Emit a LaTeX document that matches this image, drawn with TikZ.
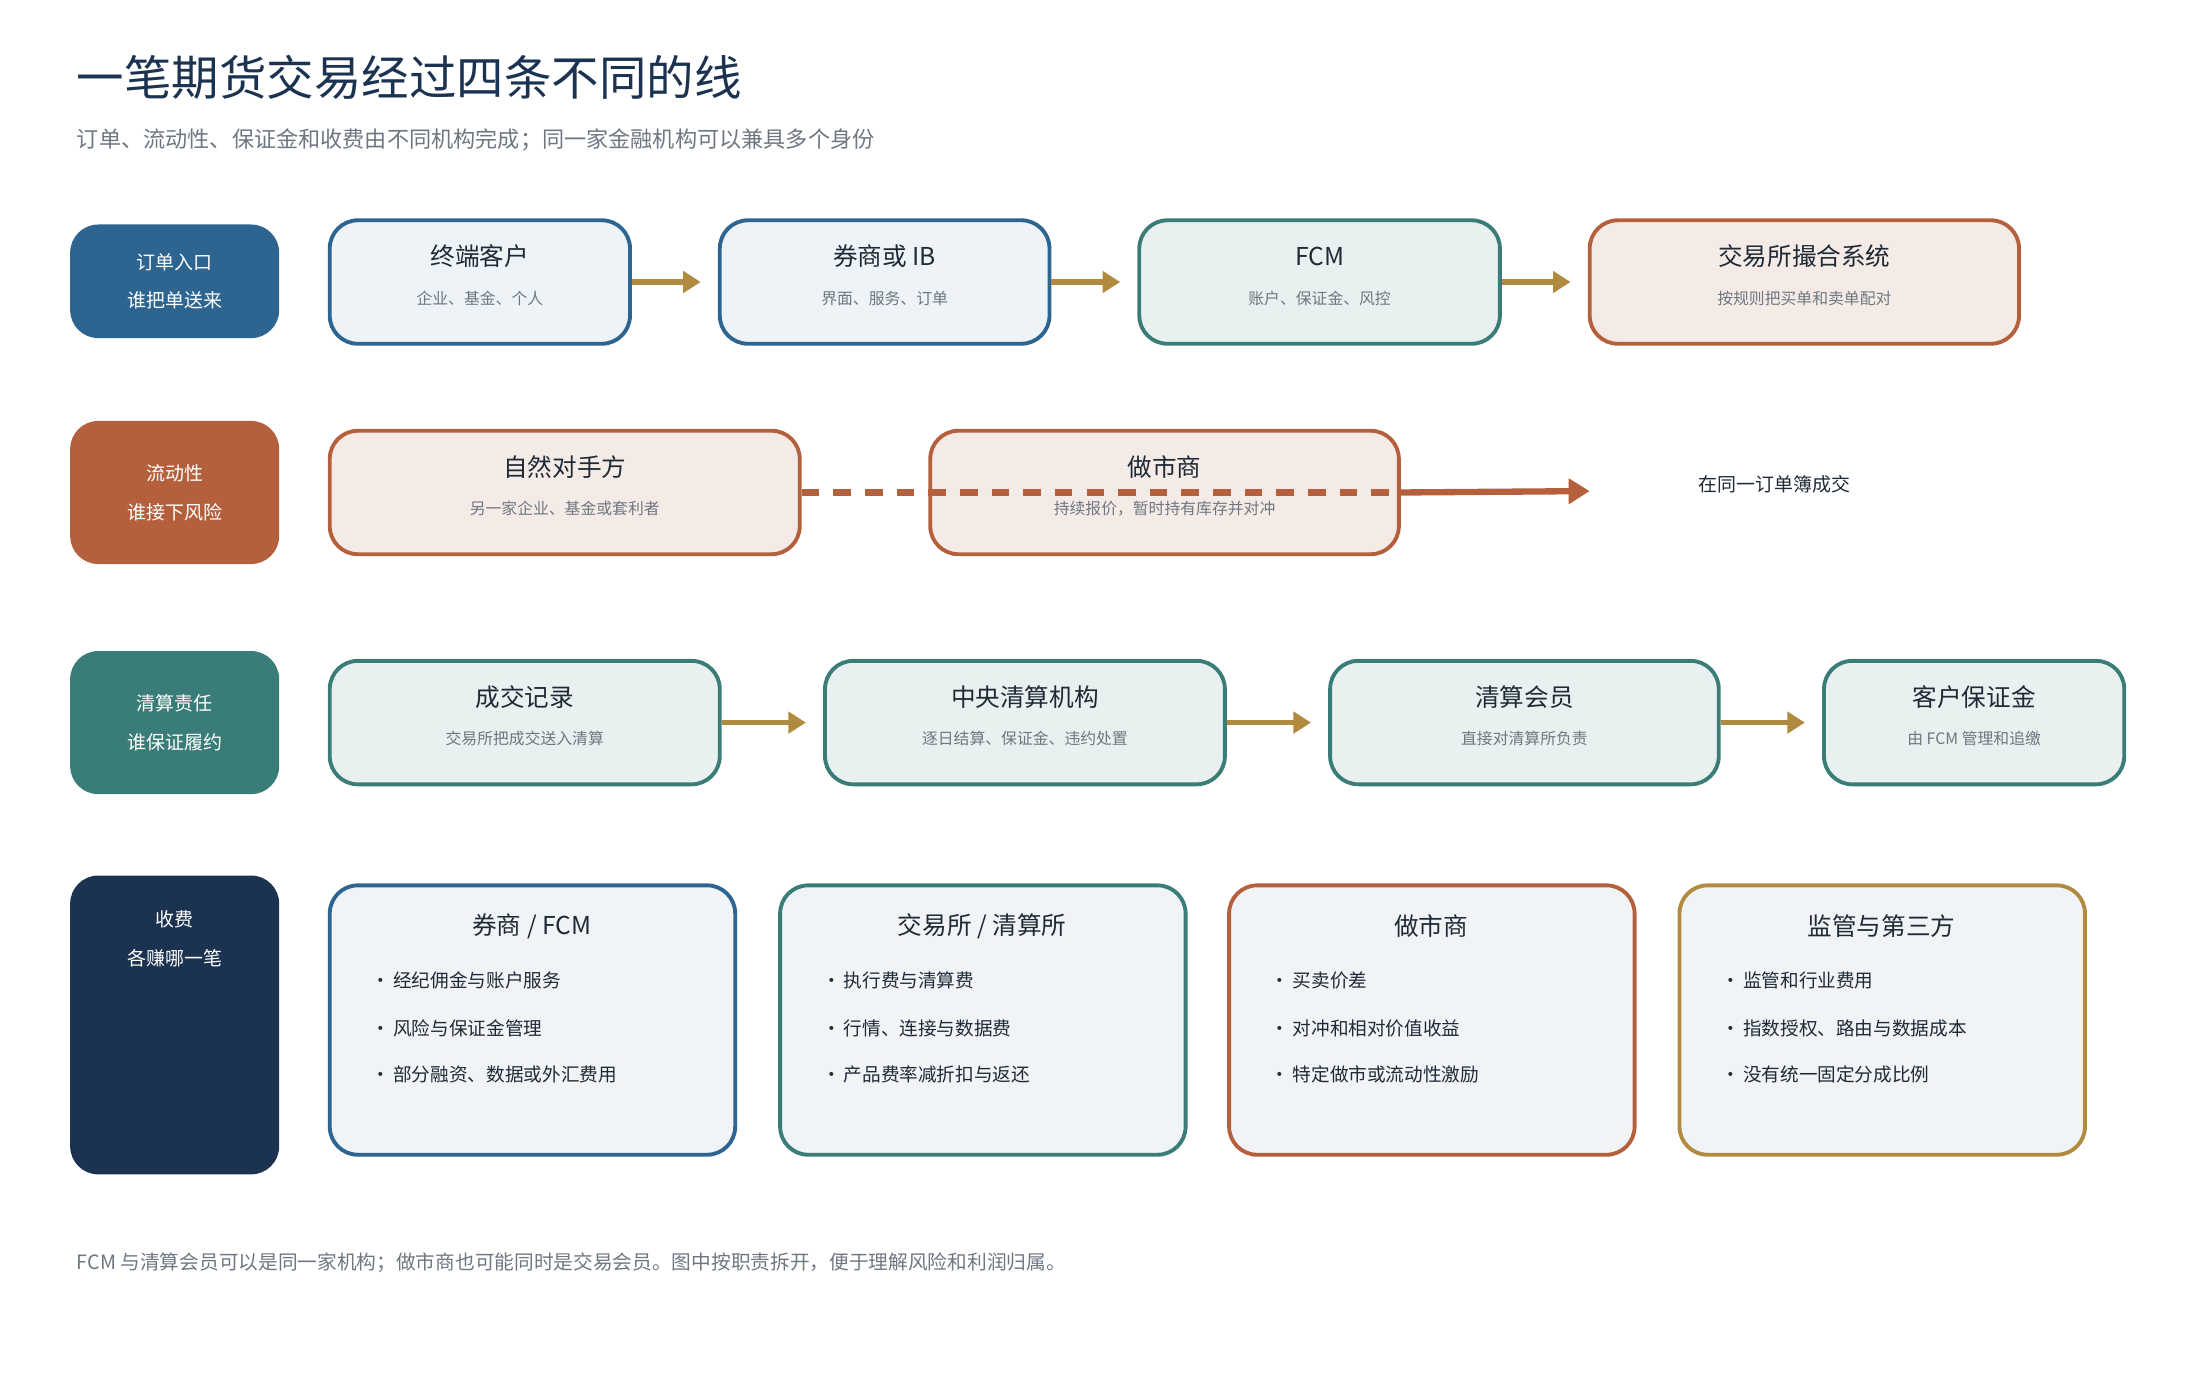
\documentclass[tikz,border=0pt]{standalone}
\usepackage{fontspec}
\setmainfont{Noto Sans CJK SC}
\usetikzlibrary{arrows.meta,positioning}
\definecolor{cblue}{HTML}{2E6490}
\definecolor{corange}{HTML}{B5603D}
\definecolor{cteal}{HTML}{3A7C77}
\definecolor{cnavy}{HTML}{1B3350}
\definecolor{cgold}{HTML}{B08A3E}
\definecolor{fblue}{HTML}{EEF3F8}
\definecolor{forange}{HTML}{F5EBE6}
\definecolor{fteal}{HTML}{E8F1EF}
\definecolor{fgray}{HTML}{F1F4F7}
\definecolor{ctext}{HTML}{1F2A36}
\definecolor{csub}{HTML}{6E7781}
\def\u{0.01403cm}
% box: name, x1, y1, x2, y2, style
\newcommand{\stagebox}[6]{%
  \node[#6, minimum width={(#4-#2)*\u}, minimum height={(#5-#3)*\u}] (#1) at ({(#2+#4)/2},{(#3+#5)/2}) {};}
\begin{document}
\begin{tikzpicture}[x=\u, y=-\u,
  box/.style={draw, line width=1.1pt, rounded corners=8pt, inner sep=0pt},
  side/.style={rounded corners=8pt, inner sep=0pt, text=white, font=\fontsize{5.4}{11}\selectfont, align=center},
  head/.style={font=\fontsize{7}{8}\selectfont, text=ctext},
  sub/.style={font=\fontsize{4.5}{5}\selectfont, text=csub},
  item/.style={font=\fontsize{5.3}{6}\selectfont, text=ctext, anchor=west},
  flow/.style={cgold, line width=1.6pt, -{Triangle[length=5pt,width=6pt]}}]
  \useasboundingbox (0,0) rectangle (1568,983);
  % title
  \node[anchor=west, text=cnavy, font=\fontsize{13.5}{14}\selectfont] (title) at (46,55) {一笔期货交易经过四条不同的线};
  \node[anchor=west, text=csub, font=\fontsize{6.3}{7}\selectfont] (subtitle) at (46,100) {订单、流动性、保证金和收费由不同机构完成；同一家金融机构可以兼具多个身份};

  % row 1: orders
  \stagebox{r1}{50}{160}{199}{241}{side, fill=cblue}
  \node[side] at (r1) {订单入口\\谁把单送来};
  \stagebox{client}{235}{157}{449}{245}{box, draw=cblue, fill=fblue}
  \stagebox{ib}{513}{157}{748}{245}{box, draw=cblue, fill=fblue}
  \stagebox{fcm}{812}{157}{1069}{245}{box, draw=cteal, fill=fteal}
  \stagebox{match}{1133}{157}{1439}{245}{box, draw=corange, fill=forange}
  \node[head] at ([yshift=-27*\u]client.north) {终端客户};
  \node[sub] at ([yshift=-57*\u]client.north) {企业、基金、个人};
  \node[head] at ([yshift=-27*\u]ib.north) {券商或 IB};
  \node[sub] at ([yshift=-57*\u]ib.north) {界面、服务、订单};
  \node[head] at ([yshift=-27*\u]fcm.north) {FCM};
  \node[sub] at ([yshift=-57*\u]fcm.north) {账户、保证金、风控};
  \node[head] at ([yshift=-27*\u]match.north) {交易所撮合系统};
  \node[sub] at ([yshift=-57*\u]match.north) {按规则把买单和卖单配对};
  \draw[flow] (client.east) -- ++(49,0);
  \draw[flow] (ib.east) -- ++(49,0);
  \draw[flow] (fcm.east) -- ++(49,0);

  % row 2: liquidity
  \stagebox{r2}{50}{300}{199}{402}{side, fill=corange}
  \node[side] at (r2) {流动性\\谁接下风险};
  \stagebox{natural}{235}{307}{570}{395}{box, draw=corange, fill=forange}
  \stagebox{mm}{663}{307}{997}{395}{box, draw=corange, fill=forange}
  \node[head] at ([yshift=-27*\u]natural.north) {自然对手方};
  \node[sub] at ([yshift=-57*\u]natural.north) {另一家企业、基金或套利者};
  \node[head] at ([yshift=-27*\u]mm.north) {做市商};
  \node[sub] at ([yshift=-57*\u]mm.north) {持续报价，暂时持有库存并对冲};
  \coordinate (book) at (1133,350);
  \draw[corange, line width=1.8pt, dash pattern=on 5pt off 4pt] (natural.east) -- (mm.east);
  \draw[corange, line width=1.8pt, -{Triangle[length=6pt,width=7pt]}] (mm.east) -- (book);
  \node[font=\fontsize{5.4}{6}\selectfont, text=ctext] (booktext) at (1265,345) {在同一订单簿成交};

  % row 3: clearing
  \stagebox{r3}{50}{464}{199}{566}{side, fill=cteal}
  \node[side] at (r3) {清算责任\\谁保证履约};
  \stagebox{trade}{235}{471}{513}{559}{box, draw=cteal, fill=fteal}
  \stagebox{ccp}{588}{471}{873}{559}{box, draw=cteal, fill=fteal}
  \stagebox{cm}{948}{471}{1225}{559}{box, draw=cteal, fill=fteal}
  \stagebox{margin}{1300}{471}{1514}{559}{box, draw=cteal, fill=fteal}
  \node[head] at ([yshift=-27*\u]trade.north) {成交记录};
  \node[sub] at ([yshift=-57*\u]trade.north) {交易所把成交送入清算};
  \node[head] at ([yshift=-27*\u]ccp.north) {中央清算机构};
  \node[sub] at ([yshift=-57*\u]ccp.north) {逐日结算、保证金、违约处置};
  \node[head] at ([yshift=-27*\u]cm.north) {清算会员};
  \node[sub] at ([yshift=-57*\u]cm.north) {直接对清算所负责};
  \node[head] at ([yshift=-27*\u]margin.north) {客户保证金};
  \node[sub] at ([yshift=-57*\u]margin.north) {由 FCM 管理和追缴};
  \draw[flow] (trade.east) -- ++(60,0);
  \draw[flow] (ccp.east) -- ++(60,0);
  \draw[flow] (cm.east) -- ++(60,0);

  % row 4: fees
  \stagebox{r4}{50}{624}{199}{837}{side, fill=cnavy}
  \node[side, anchor=north] at ([yshift=-25*\u]r4.north) {收费\\各赚哪一笔};
  \stagebox{feeb}{235}{631}{524}{823}{box, draw=cblue, fill=fgray}
  \stagebox{feex}{556}{631}{845}{823}{box, draw=cteal, fill=fgray}
  \stagebox{feem}{876}{631}{1165}{823}{box, draw=corange, fill=fgray}
  \stagebox{feer}{1197}{631}{1486}{823}{box, draw=cgold, fill=fgray}
  \node[head] at (379,660) {券商 / FCM};
  \node[item] at (256,699) {•\,经纪佣金与账户服务};
  \node[item] at (256,733) {•\,风险与保证金管理};
  \node[item] at (256,766) {•\,部分融资、数据或外汇费用};
  \node[head] at (700,660) {交易所 / 清算所};
  \node[item] at (577,699) {•\,执行费与清算费};
  \node[item] at (577,733) {•\,行情、连接与数据费};
  \node[item] at (577,766) {•\,产品费率减折扣与返还};
  \node[head] at (1020,660) {做市商};
  \node[item] at (897,699) {•\,买卖价差};
  \node[item] at (897,733) {•\,对冲和相对价值收益};
  \node[item] at (897,766) {•\,特定做市或流动性激励};
  \node[head] at (1341,660) {监管与第三方};
  \node[item] at (1218,699) {•\,监管和行业费用};
  \node[item] at (1218,733) {•\,指数授权、路由与数据成本};
  \node[item] at (1218,766) {•\,没有统一固定分成比例};

  % footer
  \node[anchor=west, text=csub, font=\fontsize{5.6}{6}\selectfont] (note) at (46,900) {FCM 与清算会员可以是同一家机构；做市商也可能同时是交易会员。图中按职责拆开，便于理解风险和利润归属。};
\end{tikzpicture}
\end{document}
